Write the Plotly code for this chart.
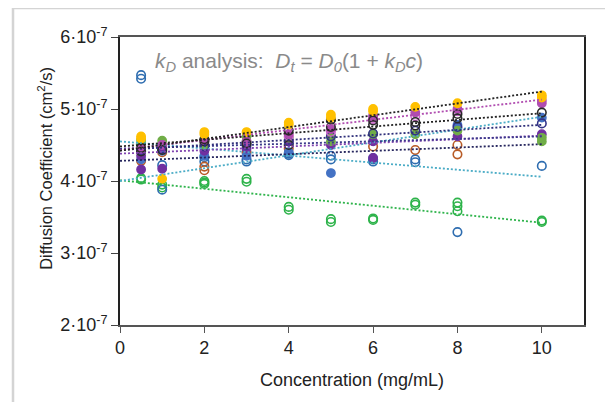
import plotly.graph_objects as go

# ---------------- data (diffusion coefficient in units of 1e-7 cm^2/s) ----------------
gold_c = [0.5, 0.5, 1, 2, 2, 3, 4, 4, 5, 5, 6, 6, 7, 8, 10, 10]
gold_v = [4.62, 4.59, 4.03, 4.68, 4.65, 4.68, 4.81, 4.78, 4.92, 4.88, 5.00, 4.97, 5.03, 5.08, 5.19, 5.16]

magenta_c = [0.5, 1, 2, 3, 4, 5, 6, 6, 7, 8, 10, 10]
magenta_v = [4.45, 4.50, 4.55, 4.55, 4.65, 4.72, 4.91, 4.88, 4.95, 5.00, 5.12, 5.08]

black_c = [0.5, 0.5, 1, 2, 2, 3, 4, 4, 5, 5, 6, 6, 7, 7, 8, 8, 10]
black_v = [4.46, 4.41, 4.43, 4.58, 4.55, 4.52, 4.70, 4.50, 4.85, 4.75, 4.84, 4.78, 4.82, 4.77, 4.93, 4.87, 4.95]

greenf_c = [0.5, 0.5, 1, 2, 3, 3, 4, 5, 5, 6, 7, 8, 10, 10]
greenf_v = [4.57, 4.52, 4.56, 4.50, 4.62, 4.55, 4.60, 4.62, 4.55, 4.65, 4.65, 4.70, 4.60, 4.55]

purple_c = [0.5, 0.5, 1, 1, 2, 3, 4, 5, 6, 6, 8, 10]
purple_v = [4.35, 4.16, 4.48, 4.17, 4.42, 4.45, 4.55, 4.50, 4.55, 4.32, 4.62, 4.65]

navy_c = [0.5, 1, 2, 3, 4, 5, 6, 7, 8, 10]
navy_v = [4.42, 4.45, 4.48, 4.50, 4.55, 4.62, 4.66, 4.70, 4.75, 4.80]

brown_c = [0.5, 1, 2, 2, 3, 4, 6, 7, 8, 8]
brown_v = [4.28, 4.40, 4.20, 4.15, 4.40, 4.45, 4.48, 4.43, 4.50, 4.37]

blueo_c = [0.5, 0.5, 1, 1, 2, 2, 3, 3, 4, 4, 5, 5, 6, 6, 7, 7, 8, 10]
blueo_v = [5.47, 5.42, 4.22, 3.88, 4.33, 4.27, 4.30, 4.27, 4.38, 4.36, 4.35, 4.30, 4.30, 4.27, 4.30, 4.26, 3.29, 4.21]

greeno_c = [0.5, 0.5, 1, 1, 2, 2, 2, 3, 3, 4, 4, 5, 5, 6, 6, 7, 7, 8, 8, 8, 10, 10]
greeno_v = [4.04, 4.02, 3.95, 3.91, 4.00, 3.98, 3.96, 4.03, 3.99, 3.64, 3.60, 3.47, 3.43,
            3.48, 3.46, 3.70, 3.67, 3.70, 3.65, 3.58, 3.45, 3.43]

bluef_c = [0.5, 1, 2, 3, 4, 5, 6, 8, 10]
bluef_v = [4.30, 4.42, 4.35, 4.35, 4.40, 4.11, 4.32, 4.78, 4.88]

pink_c = [4, 5, 6, 7, 8]
pink_v = [4.62, 4.68, 4.86, 4.90, 4.97]

# fitted kD model parameters: D = D0 * (1 + kD * c)
fit_D0 = {"gold": 4.42, "magenta": 4.43, "black": 4.48, "greenf": 4.45, "purple": 4.38,
          "navy": 4.43, "brown": 4.28, "blueo": 4.55, "greeno": 4.01, "bluef": 4.00}
fit_kD = {"gold": 0.0186, "magenta": 0.0158, "black": 0.0103, "greenf": 0.0038, "purple": 0.0057,
          "navy": 0.0079, "brown": 0.0054, "blueo": -0.0108, "greeno": -0.0147, "bluef": 0.0223}
fit_range = [0, 10]

x_ticks = [0, 2, 4, 6, 8, 10]
y_ticks = [2, 3, 4, 5, 6]
y_ticktext = ["2·10<sup>-7</sup>", "3·10<sup>-7</sup>", "4·10<sup>-7</sup>", "5·10<sup>-7</sup>", "6·10<sup>-7</sup>"]

SCALE = 1e-7

# ---------------- styles ----------------
series = [
    # key, conc, values, colour, filled, fit colour
    ("greeno", greeno_c, greeno_v, "#2DB34A", False, "#2DB34A"),
    ("blueo", blueo_c, blueo_v, "#2E6DB0", False, "#4BACC6"),
    ("brown", brown_c, brown_v, "#B85B26", False, "#26265E"),
    ("bluef", bluef_c, bluef_v, "#4472C4", True, "#4BACC6"),
    ("purple", purple_c, purple_v, "#7030A0", True, "#8044B0"),
    ("greenf", greenf_c, greenf_v, "#70AD47", True, "#3A3A8A"),
    ("navy", navy_c, navy_v, "#333388", False, "#2F2F7A"),
    ("pink", pink_c, pink_v, "#CC66CC", False, None),
    ("magenta", magenta_c, magenta_v, "#B04CB0", True, "#B04CB0"),
    ("black", black_c, black_v, "#2A2A2A", False, "#222222"),
    ("gold", gold_c, gold_v, "#FFC000", True, "#222222"),
]

fig = go.Figure()

for key, c, v, col, filled, fcol in series:
    fig.add_trace(go.Scatter(
        x=c, y=[val * SCALE for val in v], mode="markers",
        marker=dict(symbol="circle" if filled else "circle-open", size=8.5,
                    color=col, line=dict(color=col, width=1.3 if filled else 1.6)),
        showlegend=False, hoverinfo="skip"))

for key, c, v, col, filled, fcol in series:
    if fcol is None:
        continue
    d0, kd = fit_D0[key], fit_kD[key]
    fig.add_trace(go.Scatter(
        x=fit_range, y=[d0 * (1 + kd * cc) * SCALE for cc in fit_range], mode="lines",
        line=dict(color=fcol, width=1.8, dash="2px,2px"),
        showlegend=False, hoverinfo="skip"))

FONT = "Liberation Sans, Arial, Helvetica, sans-serif"

# page body has an 8px margin, so the figure is 8px smaller than the window
fig.update_layout(
    width=605, height=394,
    margin=dict(l=112, r=29, t=29, b=77),
    paper_bgcolor="white", plot_bgcolor="white",
    font=dict(family=FONT, size=18, color="#222222"),
    xaxis=dict(range=[0, 11], tickvals=x_ticks, ticktext=[str(t) for t in x_ticks],
               showgrid=False, zeroline=False, showline=True, linecolor="#555555",
               linewidth=1.5, mirror=True, ticks="outside", ticklen=6, tickcolor="#555555",
               tickfont=dict(size=18)),
    yaxis=dict(range=[2 * SCALE, 6 * SCALE], tickvals=[t * SCALE for t in y_ticks], ticktext=y_ticktext,
               showgrid=False, zeroline=False, showline=True, linecolor="#222222",
               linewidth=1.8, mirror=True, ticks="outside", ticklen=7, tickcolor="#444444",
               tickfont=dict(size=18)),
    annotations=[
        dict(text="<i>k</i><sub><i>D</i></sub> analysis:&nbsp; <i>D</i><sub><i>t</i></sub> = "
                  "<i>D</i><sub><i>0</i></sub>(1 + <i>k</i><sub><i>D</i></sub><i>c</i>)",
             xref="paper", yref="paper", x=0.071, y=0.913, xanchor="left", yanchor="middle",
             showarrow=False, font=dict(size=21, color="#8A8A8A")),
        dict(text="Diffusion Coefficient (cm<sup>2</sup>/s)", xref="paper", yref="paper",
             x=-0.162, y=0.545, xanchor="center", yanchor="middle", textangle=-90,
             showarrow=False, font=dict(size=16.5)),
        dict(text="Concentration (mg/mL)", xref="paper", yref="paper",
             x=0.5, y=-0.191, xanchor="center", yanchor="middle", showarrow=False, font=dict(size=18)),
    ],
    shapes=[
        dict(type="rect", xref="paper", yref="paper", x0=-0.2306, x1=1.0571, y0=-0.35, y1=1.1007,
             line=dict(color="#D4D4D4", width=2.5), layer="below"),
    ],
)

fig.write_html("out.html")
